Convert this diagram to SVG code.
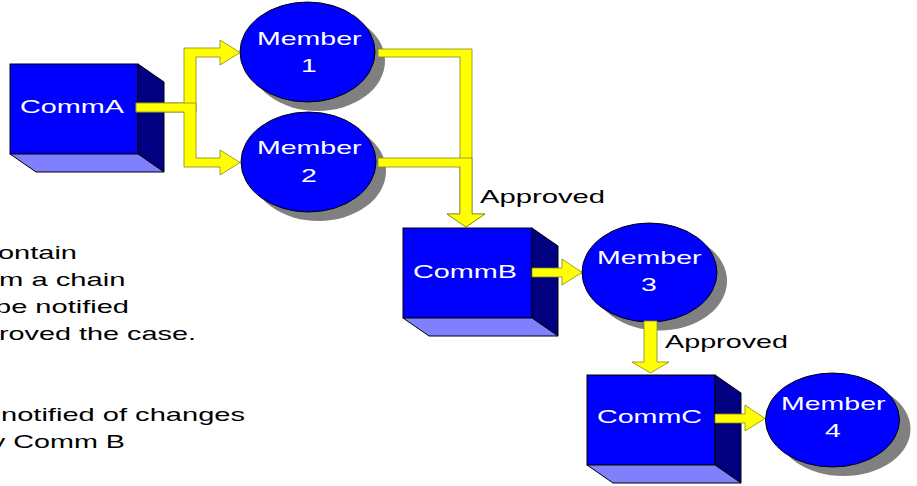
<svg xmlns="http://www.w3.org/2000/svg" width="917" height="486" viewBox="0 0 917 486">
  <style>
    .front { fill: #0000ff; stroke: #000000; stroke-width: 1; }
    .side { fill: #000080; stroke: #000000; stroke-width: 1; }
    .bottom { fill: #8080ff; stroke: #000000; stroke-width: 1; }
    .oval { fill: #0000ff; stroke: #000000; stroke-width: 1; }
    .shadow { fill: #808080; }
    .arrow { fill: #ffff00; stroke: #85851a; stroke-width: 0.8; stroke-linejoin: miter; }
    .label { font-family: "Liberation Sans", Arial, sans-serif; font-size: 19px; fill: #ffffff; }
    .note { font-family: "Liberation Sans", Arial, sans-serif; font-size: 19px; fill: #000000; }
  </style>

  <rect width="917" height="486" fill="#ffffff"/>

  <!-- explanatory notes on the left -->
  <g id="notes" class="note">
    <text x="-2" y="259" textLength="79" lengthAdjust="spacingAndGlyphs">ontain</text>
    <text x="-1" y="286" textLength="126.5" lengthAdjust="spacingAndGlyphs">m a chain</text>
    <text x="-5" y="313" textLength="134" lengthAdjust="spacingAndGlyphs">be notified</text>
    <text x="-1" y="340" textLength="197" lengthAdjust="spacingAndGlyphs">roved the case.</text>
    <text x="1" y="421" textLength="244" lengthAdjust="spacingAndGlyphs">notified of changes</text>
    <text x="-9" y="448" textLength="134" lengthAdjust="spacingAndGlyphs">y Comm B</text>
  </g>

  <!-- committees (3D blocks) -->
  <g id="commA">
    <rect class="front" x="10" y="64" width="128" height="90"/>
    <polygon class="side" points="138,64 164,82 164,172 138,154"/>
    <polygon class="bottom" points="10,154 36,172 164,172 138,154"/>
    <text class="label" x="20" y="113" textLength="104" lengthAdjust="spacingAndGlyphs">CommA</text>
  </g>
  <g id="commB">
    <rect class="front" x="403" y="228" width="129" height="90"/>
    <polygon class="side" points="532,228 558,246 558,336 532,318"/>
    <polygon class="bottom" points="403,318 429,336 558,336 532,318"/>
    <text class="label" x="413" y="278" textLength="104" lengthAdjust="spacingAndGlyphs">CommB</text>
  </g>
  <g id="commC">
    <rect class="front" x="587" y="375" width="128" height="90"/>
    <polygon class="side" points="715,375 741,393 741,483 715,465"/>
    <polygon class="bottom" points="587,465 613,483 741,483 715,465"/>
    <text class="label" x="597" y="423" textLength="105" lengthAdjust="spacingAndGlyphs">CommC</text>
  </g>

  <!-- members (ovals with drop shadow) -->
  <g id="member1">
    <ellipse class="shadow" cx="317.5" cy="61" rx="67.5" ry="50"/>
    <ellipse class="oval" cx="307.5" cy="52" rx="67.5" ry="50"/>
    <text class="label" x="257" y="45" textLength="104.5" lengthAdjust="spacingAndGlyphs">Member</text>
    <text class="label" x="309" y="72" text-anchor="middle" textLength="15.8" lengthAdjust="spacingAndGlyphs">1</text>
  </g>
  <g id="member2">
    <ellipse class="shadow" cx="318.5" cy="171" rx="67.5" ry="50"/>
    <ellipse class="oval" cx="308.5" cy="162" rx="67.5" ry="50"/>
    <text class="label" x="257" y="154" textLength="104.5" lengthAdjust="spacingAndGlyphs">Member</text>
    <text class="label" x="309" y="182" text-anchor="middle" textLength="15.8" lengthAdjust="spacingAndGlyphs">2</text>
  </g>
  <g id="member3">
    <ellipse class="shadow" cx="659.5" cy="281" rx="67.5" ry="49.5"/>
    <ellipse class="oval" cx="649.5" cy="272.5" rx="67.5" ry="49.5"/>
    <text class="label" x="597" y="264" textLength="104.5" lengthAdjust="spacingAndGlyphs">Member</text>
    <text class="label" x="649" y="291" text-anchor="middle" textLength="15.8" lengthAdjust="spacingAndGlyphs">3</text>
  </g>
  <g id="member4">
    <ellipse class="shadow" cx="843.5" cy="429" rx="67" ry="47"/>
    <ellipse class="oval" cx="832.5" cy="420" rx="67" ry="47"/>
    <text class="label" x="781" y="410" textLength="104.5" lengthAdjust="spacingAndGlyphs">Member</text>
    <text class="label" x="833" y="437" text-anchor="middle" textLength="15.8" lengthAdjust="spacingAndGlyphs">4</text>
  </g>

  <!-- block-arrow connectors -->
  <g id="connectors">
    <!-- CommA to Member 1 and Member 2 -->
    <polygon class="arrow" points="136,103 184,103 184,48 220,48 220,40 240,52.5 220,65 220,57 196,57 196,112 136,112"/>
    <polygon class="arrow" points="136,103 196,103 196,158 220,158 220,150 240,162.5 220,175 220,167 184,167 184,112 136,112"/>
    <!-- Member 1 and Member 2 to CommB -->
    <polygon class="arrow" points="378,49 472,49 472,214 485,214 466,227 447,214 460,214 460,57 378,57"/>
    <polygon class="arrow" points="378,158 472,158 472,214 485,214 466,227 447,214 460,214 460,167 378,167"/>
    <!-- CommB to Member 3 -->
    <polygon class="arrow" points="532,268 562,268 562,259 582,272.5 562,285 562,277 532,277"/>
    <!-- Member 3 to CommC -->
    <polygon class="arrow" points="644,321 657,321 657,362 669,362 650.5,373 632,362 644,362"/>
    <!-- CommC to Member 4 -->
    <polygon class="arrow" points="715,414 745,414 745,405 765,418.5 745,431 745,423 715,423"/>
    <text class="note" x="480" y="203" textLength="125" lengthAdjust="spacingAndGlyphs">Approved</text>
    <text class="note" x="665" y="348" textLength="123" lengthAdjust="spacingAndGlyphs">Approved</text>
  </g>
</svg>
